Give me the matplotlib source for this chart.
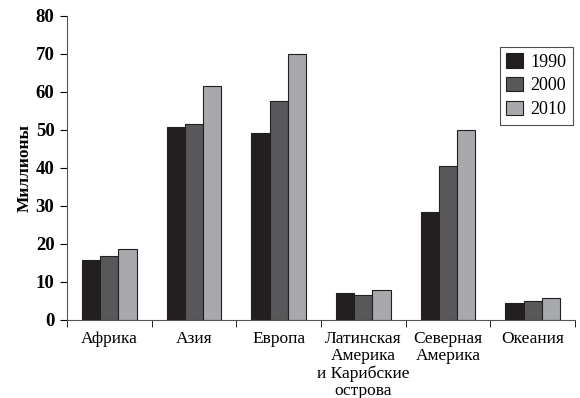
import matplotlib.pyplot as plt
import numpy as np

regions = ["Африка", "Азия", "Европа", "Латинская\nАмерика\nи Карибские\nострова",
           "Северная\nАмерика", "Океания"]
years = ["1990", "2000", "2010"]
v1990 = [15.8, 50.8, 49.2, 7.2, 28.4, 4.6]
v2000 = [16.8, 51.5, 57.6, 6.6, 40.6, 5.0]
v2010 = [18.8, 61.6, 70.0, 7.9, 49.9, 5.9]

colors = ["#231f20", "#58585a", "#a7a9ac"]

plt.rcParams['font.family'] = ['Liberation Serif', 'DejaVu Serif']

fig = plt.figure(figsize=(5.8, 3.98), dpi=100)
ax = fig.add_axes([0.1155, 0.196, 0.876, 0.764])

x = np.arange(len(regions)) + 0.5
w = 0.215
for k, (vals, yr) in enumerate(zip([v1990, v2000, v2010], years)):
    ax.bar(x + (k - 1) * w, vals, w, color=colors[k], edgecolor="#231f20",
           linewidth=0.8, label=yr)

ax.set_xlim(0, len(regions))
ax.set_ylim(0, 80)
ax.set_yticks(range(0, 81, 10))
ax.set_xticks(x)
ax.set_xticklabels(regions, fontsize=12.5)
for lbl in ax.get_xticklabels():
    lbl.set_linespacing(1.1)
ax.set_xticks(np.arange(len(regions) + 1), minor=True)
ax.tick_params(axis='x', which='major', length=0, pad=8)
ax.tick_params(axis='x', which='minor', length=5, direction='out')
ax.tick_params(axis='y', length=5, labelsize=13.5, pad=4)
for lbl in ax.get_yticklabels():
    lbl.set_fontweight('bold')
ax.set_ylabel("Миллионы", fontsize=12.5, fontweight='bold', labelpad=2)

ax.spines['top'].set_visible(False)
ax.spines['right'].set_visible(False)
for s in ['left', 'bottom']:
    ax.spines[s].set_color("#555555")

leg = ax.legend(loc='upper right', bbox_to_anchor=(0.996, 0.898), fontsize=13,
                fancybox=False, edgecolor="#231f20", handlelength=0.95,
                handleheight=0.85, handletextpad=0.4, borderpad=0.35,
                labelspacing=0.35, borderaxespad=0)
leg.get_frame().set_linewidth(0.8)

fig.savefig("out.png", dpi=100)
